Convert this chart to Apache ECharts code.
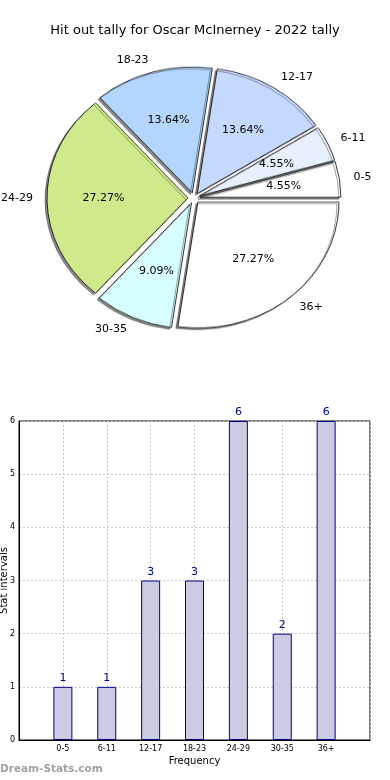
<!DOCTYPE html>
<html><head><meta charset="utf-8">
<script src="https://cdn.jsdelivr.net/npm/echarts@6/dist/echarts.min.js"></script>
<style>
html,body{margin:0;padding:0;background:#fff}
#wrap{position:relative;width:390px;height:780px}
#p{position:absolute;left:0;top:0;width:390px;height:400px;transform-origin:194px 198px;z-index:0}
#c{position:absolute;left:0;top:0;width:390px;height:780px;z-index:1}
</style>
</head><body><div id="wrap"><div id="p"></div><div id="c"></div></div>
<script>
const titleText = 'Hit out tally for Oscar McInerney - 2022 tally';
const categories = ['0-5','6-11','12-17','18-23','24-29','30-35','36+'];
const counts = [1,1,3,3,6,2,6];
const percentLabels = ['4.55%','4.55%','13.64%','13.64%','27.27%','9.09%','27.27%'];
const sliceColors = ['#ffffff','#e8f0fe','#c5d9fe','#b4d6fe','#d0ea8b','#d8ffff','#ffffff'];
const yTicks = [0,1,2,3,4,5,6];

const R = 141, CX = 194, CY = 198, OFF = 6, KY = 0.893;
const font = 'DejaVu Sans';

document.getElementById('p').style.transform = 'scaleY(' + KY + ')';

// slices (squashed vertically to an ellipse like the reference)
const pieData = categories.map((c,i)=>({name:c, value:counts[i], selected:true,
  itemStyle:{color:sliceColors[i]}}));
const pieChart = echarts.init(document.getElementById('p'), null, {renderer:'canvas'});
pieChart.setOption({
  animation:false,
  series:[{type:'pie', center:[CX,CY], radius:[0,R], startAngle:0, clockwise:false,
    selectedMode:'multiple', selectedOffset:OFF, silent:true,
    itemStyle:{borderColor:'#000', borderWidth:0.8, shadowColor:'rgba(0,0,0,0.45)', shadowBlur:0, shadowOffsetX:-2, shadowOffsetY:2},
    label:{show:false}, labelLine:{show:false}, emphasis:{disabled:true},
    data:pieData}]
});

// label placement on the ellipse (matplotlib style: names at 1.1 r, percents at 0.6 r)
const total = counts.reduce((a,b)=>a+b,0);
const midAngles = [];
{ let acc = 0; counts.forEach(v=>{ midAngles.push((acc + v/2)/total*2*Math.PI); acc += v; }); }
const placeAt = (k, alignByside) => p => {
  const t = midAngles[p.dataIndex], c = Math.cos(t), s = Math.sin(t);
  const d = OFF + k*R;
  return {x: CX + d*c, y: CY - d*s*KY,
    align: alignByside ? (c > 0 ? 'left' : 'right') : 'center', verticalAlign:'middle'};
};
const nameData = categories.map((c,i)=>({name:c, value:counts[i]}));
const pctData = categories.map((c,i)=>({name:c, value:counts[i], label:{formatter:percentLabels[i]}}));

const axisCats = [''].concat(categories, ['']);
const axisVals = ['-'].concat(counts, ['-']);

const chart = echarts.init(document.getElementById('c'), null, {renderer:'canvas'});
chart.setOption({
  animation:false,
  backgroundColor:'transparent',
  title:{text:titleText, left:'center', top:19, textStyle:{fontFamily:font, fontSize:13, fontWeight:'normal', color:'#000'}},
  graphic:[{type:'text', left:0, top:764, style:{text:'Dream-Stats.com', fontFamily:font, fontSize:10.5, fontWeight:'bold', fill:'#a0a0a0'}}],
  grid:{left:19, right:20, top:421, bottom:40, show:true, borderColor:'#000', borderWidth:1, backgroundColor:'#fff', outerBoundsMode:'none', containLabel:false},
  xAxis:{type:'category', data:axisCats, boundaryGap:false,
    name:'Frequency', nameLocation:'middle', nameGap:16, nameMoveOverlap:false,
    nameTextStyle:{fontFamily:font, fontSize:10, color:'#000'},
    axisLine:{lineStyle:{color:'#000'}},
    axisTick:{show:false},
    axisLabel:{fontFamily:font, fontSize:8, color:'#000', margin:5, interval:0},
    splitLine:{show:true, lineStyle:{color:'#c8c8c8', type:[2,2], width:1}}},
  yAxis:{type:'value', min:0, max:6, interval:1,
    name:'Stat intervals', nameLocation:'middle', nameGap:10, nameRotate:90, nameMoveOverlap:false,
    nameTextStyle:{fontFamily:font, fontSize:10, color:'#000'},
    axisLine:{show:true, lineStyle:{color:'#000'}},
    axisTick:{show:false},
    axisLabel:{fontFamily:font, fontSize:8, color:'#000', margin:4, formatter:v=>yTicks.includes(v)?String(v):''},
    splitLine:{show:true, lineStyle:{color:'#c8c8c8', type:[2,2], width:1}}},
  series:[
    {type:'pie', center:[CX,CY], radius:[0,R], startAngle:0, clockwise:false,
     avoidLabelOverlap:false, silent:true, z:2,
     itemStyle:{color:'rgba(0,0,0,0)', borderWidth:0},
     label:{show:true, position:'outside', fontFamily:font, fontSize:11, color:'#000', formatter:'{b}'},
     labelLine:{show:false},
     labelLayout:placeAt(1.1, true),
     emphasis:{disabled:true},
     data:nameData},
    {type:'pie', center:[CX,CY], radius:[0,R], startAngle:0, clockwise:false,
     avoidLabelOverlap:false, silent:true, z:3,
     itemStyle:{color:'rgba(0,0,0,0)', borderWidth:0},
     label:{show:true, position:'inside', fontFamily:font, fontSize:11, color:'#000'},
     labelLine:{show:false},
     labelLayout:placeAt(0.6, false),
     emphasis:{disabled:true},
     data:pctData},
    {type:'bar', data:axisVals, barWidth:19,
     itemStyle:{color:'#cbcbe4', borderColor:'#00008b', borderWidth:1},
     label:{show:true, position:'top', distance:3, fontFamily:font, fontSize:11, color:'#00008b'}}
  ]
});
</script></body></html>
